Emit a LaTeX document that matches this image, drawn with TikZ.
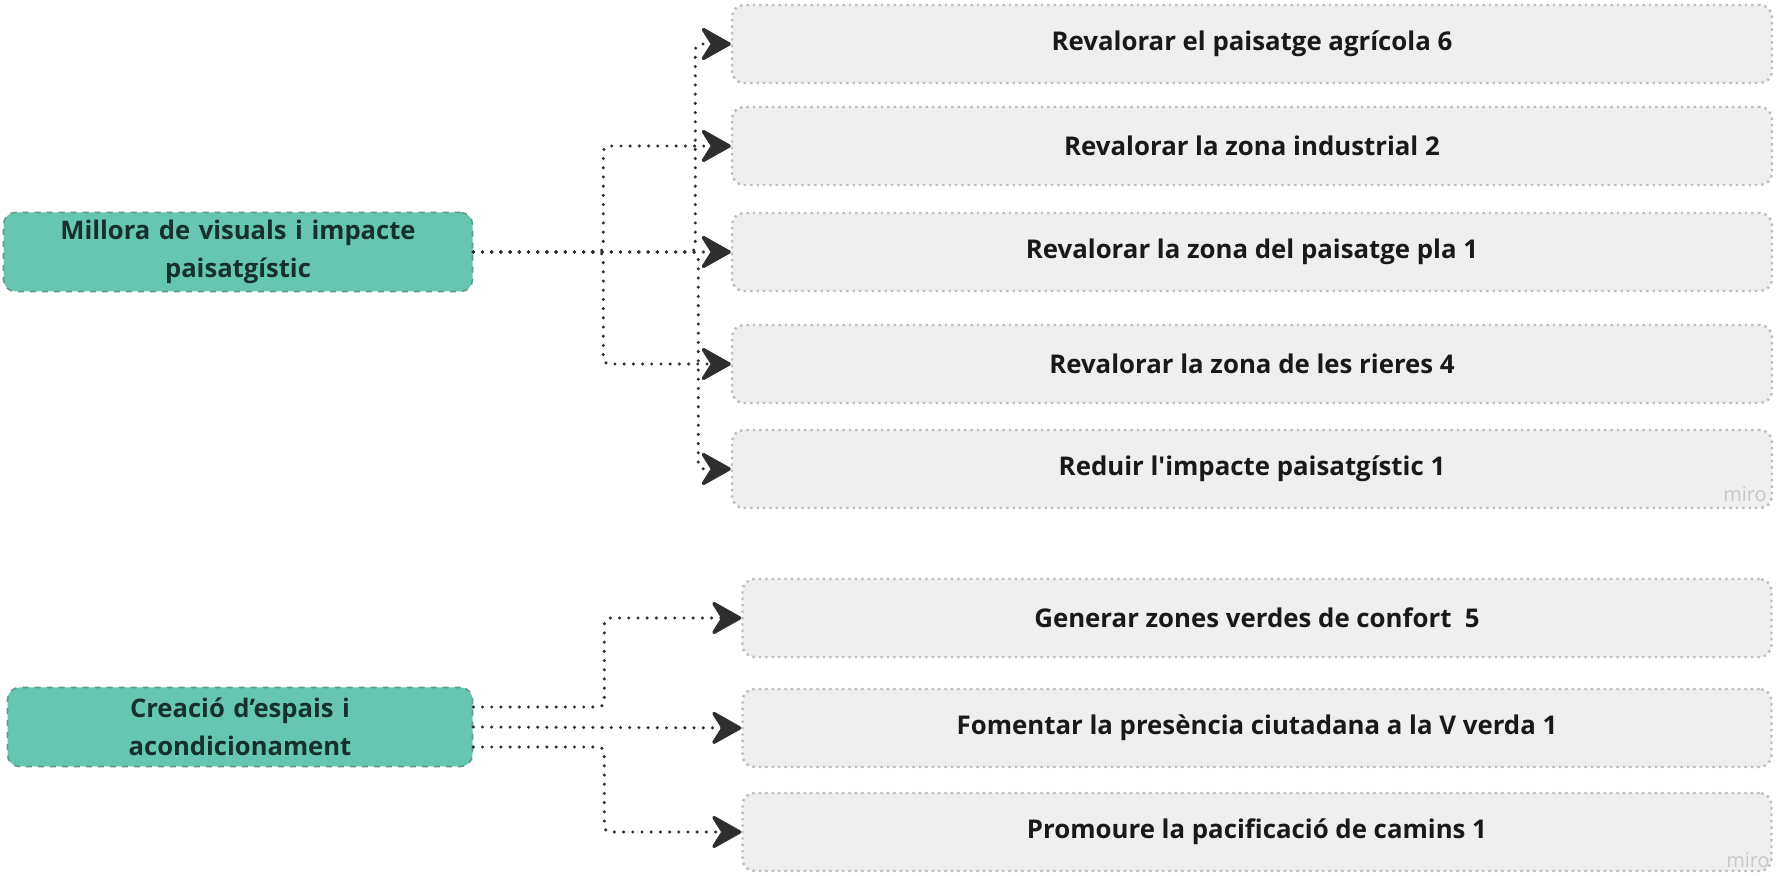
\documentclass[tikz,border=0pt]{standalone}
\usepackage{fontspec}
\setmainfont{Open Sans}
\usetikzlibrary{arrows.meta}

\definecolor{goalfill}{HTML}{67C6B2}
\definecolor{goalline}{HTML}{5A9C8C}
\definecolor{goaltext}{HTML}{16302B}
\definecolor{actfill}{HTML}{EFEFEF}
\definecolor{actline}{HTML}{BDBDBD}
\definecolor{linkcol}{HTML}{2E2E2E}

\begin{document}
\begin{tikzpicture}[x=0.5pt, y=-0.5pt, line width=0.8pt,
		>={Stealth[length=17pt,width=19pt,inset=6pt,round]},
		goal/.style={draw=goalline, fill=goalfill, dashed, rounded corners=6pt,
			text=goaltext, font=\fontsize{12.8}{19}\selectfont\bfseries,
			align=center, text width=215pt, minimum height=39.5pt, inner sep=0pt},
		action/.style={draw=actline, fill=actfill, dotted, line width=1.2pt,
			rounded corners=6pt, font=\fontsize{12.9}{15}\selectfont\bfseries,
			text=black!90, minimum height=39pt, inner sep=0pt},
		link/.style={draw=linkcol, line width=1.7pt, line cap=round,
			dash pattern=on 0pt off 4.6pt, rounded corners=3pt, ->}]
	\useasboundingbox (0,0) rectangle (1779,876);

	% Goal boxes on the left.
	\node[goal, minimum width=234.5pt] (millora) at (238,252)
		{Millora de visuals i impacte\\paisatgístic};
	\node[goal, minimum width=232.5pt] (creacio) at (240,727)
		{Creació d’espais i\\acondicionament};

	% Actions of the first goal.
	\node[action, minimum width=520pt] (agricola) at (1252,44) {Revalorar el paisatge agrícola 6};
	\node[action, minimum width=520pt] (industrial) at (1252,146) {Revalorar la zona industrial 2};
	\node[action, minimum width=520pt] (pla) at (1252,252) {Revalorar la zona del paisatge pla 1};
	\node[action, minimum width=520pt] (rieres) at (1252,364) {Revalorar la zona de les rieres 4};
	\node[action, minimum width=520pt] (impacte) at (1252,469) {Reduir l\textquotesingle impacte paisatgístic 1};

	% Actions of the second goal.
	\node[action, minimum width=514.5pt] (confort) at (1257,618) {Generar zones verdes de confort\ \ 5};
	\node[action, minimum width=514.5pt] (vverda) at (1257,728) {Fomentar la presència ciutadana a la V verda 1};
	\node[action, minimum width=514.5pt] (camins) at (1257,832) {Promoure la pacificació de camins 1};

	% Connectors of the first goal.
	\draw[link] (millora.east) -- (pla.west);
	\draw[link] (millora.east) -- ++(130,0) |- (industrial.west);
	\draw[link] (millora.east) -- ++(130,0) |- (rieres.west);
	\draw[link] (millora.east) -- ++(222,0) |- (agricola.west);
	\draw[link] (millora.east) -- ++(225,0) |- (impacte.west);

	% Connectors of the second goal.
	\draw[link] ([yshift=10pt]creacio.east) -- ++(131,0) |- (confort.west);
	\draw[link] (creacio.east) -- (vverda.west);
	\draw[link] ([yshift=-10pt]creacio.east) -- ++(131,0) |- (camins.west);

	% Watermarks.
	\node[text=black!22, font=\fontsize{10}{10}\selectfont] (miroa) at (1745,494) {miro};
	\node[text=black!22, font=\fontsize{10}{10}\selectfont] (mirob) at (1748,860) {miro};
\end{tikzpicture}
\end{document}
